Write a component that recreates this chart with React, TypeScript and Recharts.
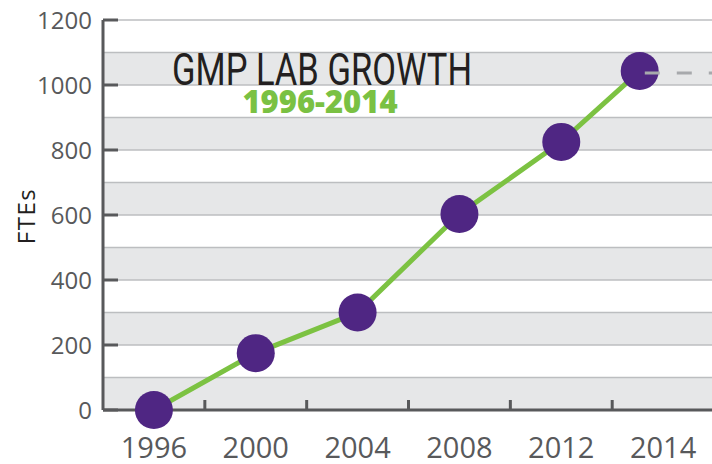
import { LineChart, Line, XAxis, YAxis, CartesianGrid, ReferenceLine } from 'recharts'

const years = ['1996', '2000', '2004', '2008', '2012', '2014']
// integer ticks carry the year labels, half ticks are the small marks between them
const xTicks = [0, 0.5, 1, 1.5, 2, 2.5, 3, 3.5, 4, 4.5, 5]
const pointPos = [0, 1, 2, 3, 4, 4.77]
const fte = [0, 175, 300, 603, 825, 1043]
const yTicks = [0, 100, 200, 300, 400, 500, 600, 700, 800, 900, 1000, 1100, 1200]
const latest = { from: 4.82, to: 5.48, value: 1037 }

const data = pointPos.map((p, i) => ({ pos: p, fte: fte[i] }))

const AXIS = '#58595b'
const X_MARGIN = 27
const Y_MARGIN = 11

const XTick = ({ x, y, payload }: any) => {
  const v = payload.value
  if (Number.isInteger(v)) {
    return (
      <text x={x} y={y} dy="0.71em" textAnchor="middle" fontSize={29} fill={AXIS} fontFamily="Open Sans">
        {years[v]}
      </text>
    )
  }
  const axisY = y - X_MARGIN
  return <line x1={x} x2={x} y1={axisY} y2={axisY - 10} stroke={AXIS} strokeWidth={3} />
}

const YTick = ({ x, y, payload }: any) => {
  const v = payload.value
  if (v % 200 !== 0) return <g />
  return (
    <g>
      <text x={x} y={y} dy="0.36em" textAnchor="end" fontSize={24} fill={AXIS} fontFamily="Open Sans">
        {v}
      </text>
      <line x1={x + Y_MARGIN} x2={x + Y_MARGIN + 15} y1={y} y2={y} stroke={AXIS} strokeWidth={3} />
    </g>
  )
}

export default function App() {
  return (
    <div style={{ position: 'absolute', left: 0, top: 0, width: 712, height: 464, background: '#fff' }}>
      <LineChart width={712} height={464} data={data} margin={{ top: 20, right: 0, bottom: 0, left: 0 }}>
        <CartesianGrid
          vertical={false}
          stroke="#bcbec0"
          strokeWidth={1.5}
          horizontalFill={['#ffffff', '#e6e7e8']}
          fillOpacity={1}
        />
        <XAxis
          dataKey="pos"
          type="number"
          domain={[-0.5, 5.48]}
          ticks={xTicks}
          interval={0}
          height={54}
          tickSize={0}
          tickMargin={X_MARGIN}
          axisLine={{ stroke: AXIS, strokeWidth: 3 }}
          tickLine={false}
          tick={<XTick />}
        />
        <YAxis
          domain={[0, 1200]}
          ticks={yTicks}
          interval={0}
          width={103}
          tickSize={0}
          tickMargin={Y_MARGIN}
          axisLine={{ stroke: AXIS, strokeWidth: 3 }}
          tickLine={false}
          tick={<YTick />}
        />
        <text
          x={25}
          y={216}
          transform="rotate(-90 25 216)"
          textAnchor="middle"
          dominantBaseline="central"
          fontSize={24}
          letterSpacing={1.5}
          fill="#231f20"
          fontFamily="Open Sans"
        >
          FTEs
        </text>
        <text
          x={322}
          y={85}
          textAnchor="middle"
          fontSize={44}
          fill="#231f20"
          fontFamily="Roboto, sans-serif"
          textLength={300}
          lengthAdjust="spacingAndGlyphs"
        >
          GMP LAB GROWTH
        </text>
        <text x={320} y={113} textAnchor="middle" fontSize={31} fontWeight={800} fill="#7ac143" fontFamily="'Open Sans', sans-serif">
          1996-2014
        </text>
        <Line
          dataKey="fte"
          stroke="#7cc242"
          strokeWidth={5}
          dot={{ r: 19, fill: '#4f2683', stroke: 'none' }}
          activeDot={false}
          isAnimationActive={false}
        />
        <ReferenceLine
          segment={[{ x: latest.from, y: latest.value }, { x: latest.to, y: latest.value }]}
          stroke="#a7a9ac"
          strokeWidth={3}
          strokeDasharray="15 17"
          zIndex={2000}
        />
      </LineChart>
    </div>
  )
}
